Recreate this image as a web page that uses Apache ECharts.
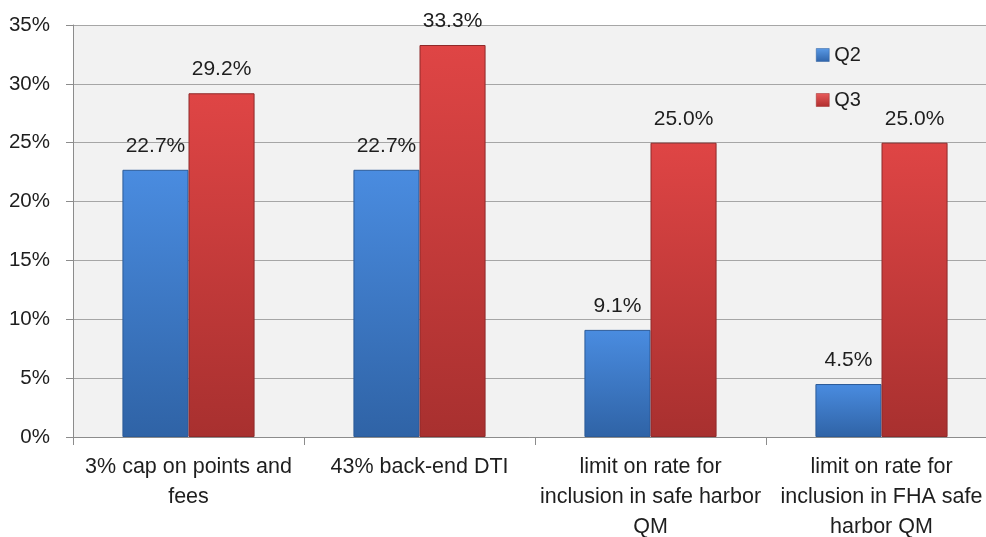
<!DOCTYPE html>
<html>
<head>
<meta charset="utf-8">
<script src="https://cdn.jsdelivr.net/npm/echarts@6/dist/echarts.min.js"></script>
<style>
  html, body { margin: 0; padding: 0; background: #ffffff; }
  #chart { width: 986px; height: 537px; }
</style>
</head>
<body>
<div id="chart"></div>
<script>
// Survey categories (x axis)
const categories = [
  '3% cap on points and\nfees',
  '43% back-end DTI',
  'limit on rate for\ninclusion in safe harbor\nQM',
  'limit on rate for\ninclusion in FHA safe\nharbor QM'
];
// Share of respondents, percent
const q2Values = [22.7, 22.7, 9.1, 4.5];
const q3Values = [29.2, 33.3, 25.0, 25.0];
const seriesNames = ['Q2', 'Q3'];
// Y axis range and step, percent
const yMin = 0, yMax = 35, yStep = 5;

const FONT = '"Liberation Sans", Arial, sans-serif';
const TEXT = '#1e1e1e';

function barFill(top, bottom) {
  return new echarts.graphic.LinearGradient(0, 0, 0, 1, [
    { offset: 0, color: top },
    { offset: 1, color: bottom }
  ]);
}

const labelOpt = {
  show: true,
  position: 'top',
  distance: 13,
  color: TEXT,
  fontSize: 21,
  lineHeight: 22,
  fontFamily: FONT,
  formatter: p => p.value.toFixed(1) + '%'
};

const chart = echarts.init(document.getElementById('chart'), null, { renderer: 'canvas' });
chart.setOption({
  animation: false,
  textStyle: { fontFamily: FONT },
  grid: {
    // the last category runs slightly past the right edge of the page
    left: 73, width: 924, top: 25, bottom: 100,
    show: true, backgroundColor: '#f2f2f2', borderWidth: 0,
    containLabel: false,
    outerBoundsMode: 'none'
  },
  legend: {
    orient: 'vertical',
    left: 811, top: 39,
    itemWidth: 13, itemHeight: 13, itemGap: 23,
    textStyle: { fontSize: 20, color: TEXT, fontFamily: FONT, lineHeight: 22 },
    data: [
      { name: seriesNames[0], icon: 'rect', itemStyle: { color: barFill('#5a9ae6', '#2f64aa'), borderColor: '#2c5e9e', borderWidth: 0.5 } },
      { name: seriesNames[1], icon: 'rect', itemStyle: { color: barFill('#e85a5a', '#b02e2e'), borderColor: '#9e2a2a', borderWidth: 0.5 } }
    ]
  },
  xAxis: {
    type: 'category',
    data: categories,
    axisLine: { show: true, lineStyle: { color: '#8c8c8c', width: 1 } },
    axisTick: { show: true, length: 8, lineStyle: { color: '#8c8c8c' } },
    axisLabel: {
      color: TEXT, fontSize: 21.5, fontFamily: FONT,
      lineHeight: 30, margin: 15, interval: 0
    }
  },
  yAxis: {
    type: 'value',
    min: yMin, max: yMax, interval: yStep,
    axisLine: { show: true, lineStyle: { color: '#8c8c8c', width: 1 } },
    axisTick: { show: true, length: 7, lineStyle: { color: '#8c8c8c' } },
    splitLine: { show: true, lineStyle: { color: '#a6a6a6', width: 1 } },
    axisLabel: {
      color: TEXT, fontSize: 20.5, fontFamily: FONT, margin: 23,
      formatter: '{value}%'
    }
  },
  series: [
    {
      name: seriesNames[0],
      type: 'bar',
      data: q2Values,
      barWidth: '28.6%',
      barGap: '0%',
      itemStyle: { color: barFill('#4a8ce0', '#2f63a6'), borderColor: '#2c5b98', borderWidth: 1 },
      label: labelOpt
    },
    {
      name: seriesNames[1],
      type: 'bar',
      data: q3Values,
      barWidth: '28.6%',
      barGap: '0%',
      itemStyle: { color: barFill('#df4545', '#a8302f'), borderColor: '#8f2a2a', borderWidth: 1 },
      label: labelOpt
    }
  ]
});
</script>
</body>
</html>
